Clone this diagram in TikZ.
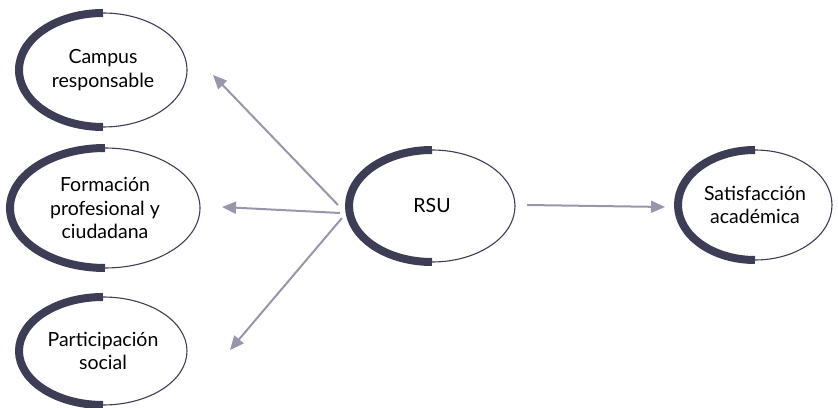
\documentclass[tikz,border=0pt]{standalone}
\usepackage{fontspec}
\setmainfont{Lato}
\usetikzlibrary{shapes.geometric,arrows.meta}
\definecolor{ringc}{RGB}{62,61,86}
\definecolor{arrc}{RGB}{152,150,170}
\tikzset{
  ring/.style={ellipse, draw=ringc, line width=1.1pt, inner sep=0pt, outer sep=0pt,
    align=center, font=\fontsize{19.5}{23.5}\selectfont},
  thickarc/.style={draw=ringc, line width=8pt},
  conn/.style={draw=arrc, line width=2pt, -{Triangle[length=14pt,width=12pt]}}
}
\newcommand{\ringnode}[6]{% name, x, y, rx, ry, text
  \node[ring, minimum width=#4*2pt, minimum height=#5*2pt] (#1) at (#2,#3) {#6};
  \draw[thickarc] (#1.north) arc[start angle=90, end angle=270, x radius=#4pt, y radius=#5pt];
}
\begin{document}
\begin{tikzpicture}[x=1pt,y=1pt]
\useasboundingbox (0,0) rectangle (838,407);
\ringnode{campus}{103}{337}{84}{57}{Campus\\responsable}
\ringnode{formacion}{105}{199}{95}{60}{Formación\\profesional y\\ciudadana}
\ringnode{participacion}{103}{56}{84}{54}{Participación\\social}
\ringnode{rsu}{432}{201}{83}{56}{RSU}
\ringnode{satis}{755}{202}{77}{55}{Satisfacción\\académica}
\coordinate (s1) at (338,202);
\coordinate (s2) at (340,194);
\coordinate (s3) at (342,189);
\coordinate (t1) at (213,332);
\coordinate (t2) at (222,200);
\coordinate (t3) at (230,57);
\coordinate (s4) at (527,202);
\coordinate (t4) at (665,200);
\draw[conn] (s1) -- (t1);
\draw[conn] (s2) -- (t2);
\draw[conn] (s3) -- (t3);
\draw[conn] (s4) -- (t4);
\end{tikzpicture}
\end{document}
